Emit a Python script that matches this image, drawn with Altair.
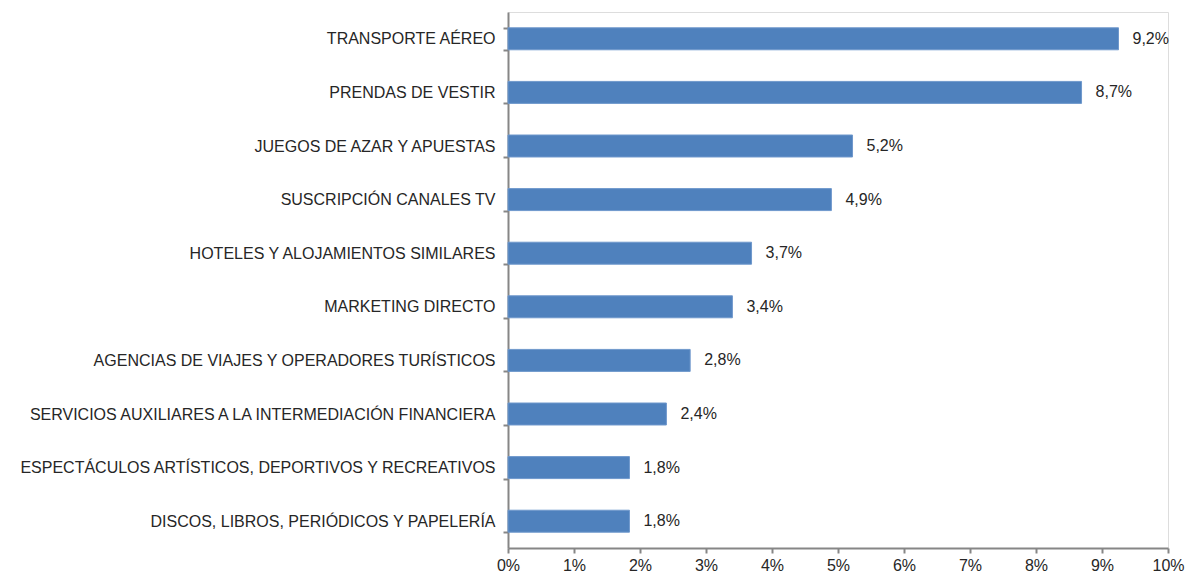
import altair as alt
import pandas as pd

categories = [
    "TRANSPORTE AÉREO",
    "PRENDAS DE VESTIR",
    "JUEGOS DE AZAR Y APUESTAS",
    "SUSCRIPCIÓN CANALES TV",
    "HOTELES  Y ALOJAMIENTOS SIMILARES",
    "MARKETING DIRECTO",
    "AGENCIAS DE VIAJES Y OPERADORES TURÍSTICOS",
    "SERVICIOS AUXILIARES A LA INTERMEDIACIÓN FINANCIERA",
    "ESPECTÁCULOS ARTÍSTICOS, DEPORTIVOS Y RECREATIVOS",
    "DISCOS, LIBROS, PERIÓDICOS Y PAPELERÍA",
]
values = [0.0925, 0.0869, 0.0522, 0.0490, 0.0369, 0.0340, 0.0276, 0.0240, 0.0184, 0.0184]
labels = ["9,2%", "8,7%", "5,2%", "4,9%", "3,7%", "3,4%", "2,8%", "2,4%", "1,8%", "1,8%"]
x_ticks = [i / 100 for i in range(0, 11)]

df = pd.DataFrame({"cat": categories, "val": values, "lab": labels})

FONT = "Liberation Sans"

y_enc = alt.Y(
    "cat:N",
    sort=categories,
    title=None,
    scale=alt.Scale(paddingInner=0.59, paddingOuter=0.295),
    axis=alt.Axis(
        tickBand="extent",
        tickSize=5,
        tickColor="#868686",
        tickWidth=2,
        domainColor="#868686",
        domainWidth=2,
        labelFont=FONT,
        labelFontSize=16,
        labelColor="#262626",
        labelPadding=8,
        labelLimit=600,
    ),
)

x_enc = alt.X(
    "val:Q",
    title=None,
    scale=alt.Scale(domain=[0, 0.10], nice=False),
    axis=alt.Axis(
        values=x_ticks,
        format=".0%",
        grid=False,
        tickSize=5,
        tickColor="#868686",
        tickWidth=2,
        domainColor="#868686",
        domainWidth=2,
        labelFont=FONT,
        labelFontSize=16,
        labelColor="#262626",
        labelPadding=4,
        labelFlush=False,
    ),
)

bars = alt.Chart(df).mark_bar(color="#4F81BD", stroke="#6F98CC", strokeWidth=1).encode(
    x=x_enc, y=y_enc
)

text = alt.Chart(df).mark_text(
    align="left", baseline="middle", dx=14, font=FONT, fontSize=16, color="#262626"
).encode(x="val:Q", y=alt.Y("cat:N", sort=categories), text="lab:N")

chart = (
    alt.layer(bars, text)
    .properties(
        width=660,
        height=536,
        autosize=alt.AutoSizeParams(type="none"),
        padding={"left": 500, "top": 4, "right": 19, "bottom": 26},
    )
    .configure_view(stroke=None)
    .configure(background="white")
)

chart.save("out.html", embed_options={"renderer": "svg", "actions": False})
